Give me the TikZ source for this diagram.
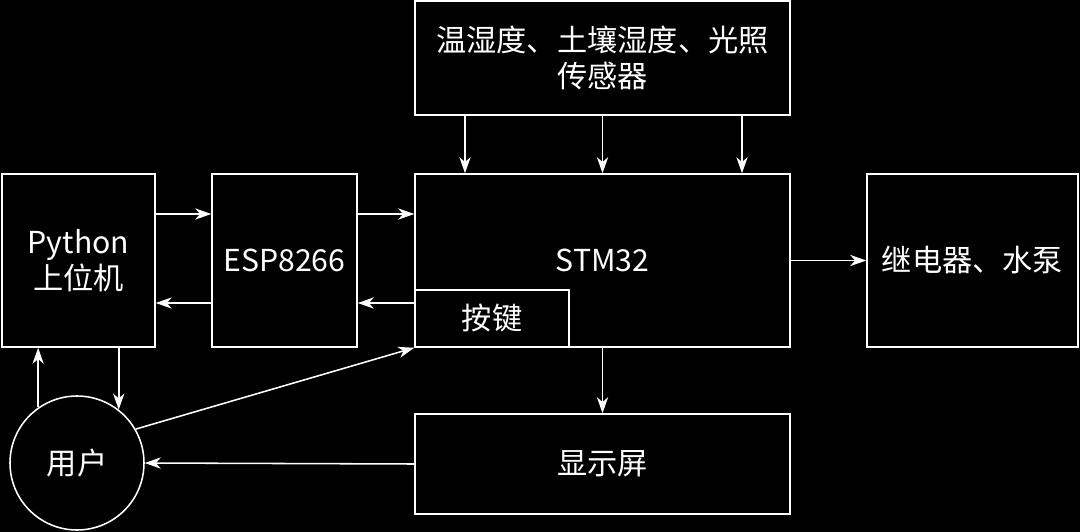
\documentclass[tikz,border=0pt]{standalone}
\usepackage{fontspec}
\setmainfont{Noto Sans CJK SC}
\usetikzlibrary{arrows.meta,calc}

\begin{document}
\begin{tikzpicture}[x=0.025cm, y=-0.025cm, line width=1.1pt, white,
  font=\fontsize{21.5}{25.5}\selectfont,
  box/.style = {draw, rectangle, align=center, inner sep=0pt},
  user/.style = {draw, circle, minimum size=134*0.025cm, inner sep=0pt},
  >={Stealth[length=4mm, width=2.8mm, inset=1.2mm]}]
\fill[black] (0,0) rectangle (1080,532);
\useasboundingbox (0,0) rectangle (1080,532);
\node[box, minimum width=375*0.025cm, minimum height=114*0.025cm] (sensor) at (602.5,58) {温湿度、土壤湿度、光照\\传感器};
\node[box, minimum width=375*0.025cm, minimum height=173*0.025cm] (stm) at (602.5,260.5) {STM32};
\node[box, minimum width=154*0.025cm, minimum height=57*0.025cm, anchor=south west] (key) at (stm.south west) {按键};
\node[box, minimum width=153*0.025cm, minimum height=173*0.025cm] (python) at (78.5,260.5) {Python\\上位机};
\node[box, minimum width=145*0.025cm, minimum height=173*0.025cm] (esp) at (284.5,260.5) {ESP8266};
\node[box, minimum width=211*0.025cm, minimum height=173*0.025cm] (relay) at (972.5,260.5) {继电器、水泵};
\node[box, minimum width=375*0.025cm, minimum height=100*0.025cm] (display) at (602.5,464) {显示屏};
\node[user] (u) at (77,463) {用户};
% sensors down to the mcu
\draw[->] ($(sensor.south)+(-137.5,0)$) -- ($(stm.north)+(-137.5,0)$);
\draw[->] (sensor.south) -- (stm.north);
\draw[->] ($(sensor.south)+(139.5,0)$) -- ($(stm.north)+(139.5,0)$);
% wifi link
\draw[->] ($(python.east)+(0,-46.5)$) -- ($(esp.west)+(0,-46.5)$);
\draw[->] ($(esp.east)+(0,-46.5)$) -- ($(stm.west)+(0,-46.5)$);
\draw[->] ($(stm.west)+(0,42.5)$) -- ($(esp.east)+(0,42.5)$);
\draw[->] ($(esp.west)+(0,42.5)$) -- ($(python.east)+(0,42.5)$);
% outputs
\draw[->] (stm.east) -- (relay.west);
\draw[->] (stm.south) -- (display.north);
\draw[->] (display.west) -- (u.east);
% user
\draw[->] (u.30) -- (stm.south west);
\draw[->] (u.125) -- (u.125 |- python.south);
\draw[->] (python.south -| u.52) -- (u.52);
\end{tikzpicture}
\end{document}
